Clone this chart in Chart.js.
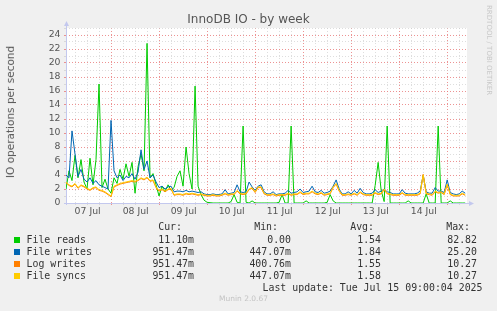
<!DOCTYPE html>
<html>
<head>
<meta charset="utf-8">
<script src="https://cdn.jsdelivr.net/npm/chart.js@4"></script>
<style>
  body { margin: 0; background: #f0f0f0; }
  #wrap { position: relative; width: 497px; height: 311px; background: #f0f0f0; overflow: hidden; }
  #wrap div { position: absolute; white-space: pre; }
  .mono { font-family: "DejaVu Sans Mono", monospace; font-size: 9.9px; color: #333; line-height: 12px; }
</style>
</head>
<body>
<div id="wrap">
  <canvas id="metricChart" width="497" height="311"></canvas>
  <div id="title" style="left:0;width:497px;top:12px;text-align:center;font-family:'DejaVu Sans';font-size:12px;color:#555;line-height:14px;">InnoDB IO - by week</div>
  <div id="ytitle" style="left:4px;top:112px;font-family:'DejaVu Sans';font-size:10.5px;color:#555;line-height:12px;transform:translate(0,-50%) rotate(180deg);writing-mode:vertical-rl;">IO operations per second</div>
  <div id="mark" style="left:484px;top:5px;font-family:'DejaVu Sans';font-size:7px;color:#c8c8c8;writing-mode:vertical-rl;line-height:9px;">RRDTOOL / TOBI OETIKER</div>
  <div id="munin" style="left:0;width:487px;top:294px;text-align:center;font-family:'DejaVu Sans';font-size:7.5px;color:#c4c4c4;line-height:10px;">Munin 2.0.67</div>
</div>
<script>
// day labels on the x axis (centred on noon of each day)
const days = ["07 Jul", "08 Jul", "09 Jul", "10 Jul", "11 Jul", "12 Jul", "13 Jul", "14 Jul"];

// one sample every 1.5 hours, starting just after midnight 06/07 Jul
const startDay = 0.05;
const stepDay = 0.0625;

const fileReads = [
  2.0, 4.6, 3.2, 6.8, 3.6, 6.2, 3.0, 2.0, 6.4, 2.6,
  6.2, 17.0, 2.2, 3.4, 2.0, 1.4, 3.6, 2.8, 4.8, 3.4,
  5.6, 3.8, 5.8, 1.4, 5.2, 7.0, 4.6, 22.8, 3.6, 4.2,
  2.6, 1.0, 2.4, 1.6, 2.6, 1.8, 2.2, 3.8, 4.6, 2.4,
  8.0, 4.2, 2.0, 16.7, 2.4, 1.2, 0.4, 0.1, 0.05, 0,
  0, 0, 0, 0, 0, 0.2, 1.2, 0.1, 0, 11.0,
  0.1, 0, 0.3, 0, 0, 0, 0, 0, 0, 0,
  0, 0.1, 1.2, 0, 0, 11.0, 0, 0, 0, 0,
  0.3, 0, 0, 0, 0, 0, 0, 0.1, 1.2, 0.3,
  0, 0, 0, 0, 0, 0, 0, 0, 0, 0,
  0, 0, 0, 2.5, 5.8, 1.8, 0.2, 11.0, 0, 0,
  0, 0, 0, 0, 0.3, 0, 0, 0, 0, 0,
  1.3, 0, 0, 0, 11.0, 0, 0, 0, 0.3, 0,
  0, 0, 0, 0
];

const fileWrites = [
  4.0, 3.6, 10.3, 7.0, 3.8, 4.8, 3.4, 3.0, 3.6, 2.8,
  3.2, 2.6, 2.4, 2.2, 2.0, 11.8, 4.6, 3.6, 4.0, 3.2,
  3.8, 3.6, 4.2, 3.4, 4.4, 7.6, 4.8, 6.0, 3.6, 4.0,
  3.0, 2.2, 2.4, 2.0, 2.3, 2.4, 1.6, 1.7, 1.7, 1.6,
  1.8, 1.6, 1.7, 1.6, 1.5, 1.6, 1.3, 1.2, 1.2, 1.3,
  1.2, 1.2, 1.3, 1.9, 1.3, 1.4, 1.5, 2.6, 1.6, 1.5,
  1.6, 3.0, 2.3, 1.8, 2.4, 2.6, 1.6, 1.3, 1.3, 1.6,
  1.2, 1.3, 1.3, 1.4, 1.8, 1.4, 1.5, 1.6, 2.0, 1.5,
  1.6, 1.7, 2.4, 1.6, 1.5, 1.8, 1.4, 1.5, 1.7, 2.4,
  3.3, 2.0, 1.3, 1.3, 1.6, 1.3, 1.8, 1.4, 2.1, 1.5,
  1.3, 1.3, 1.4, 1.9, 1.5, 1.7, 2.0, 1.6, 1.5, 1.3,
  1.3, 1.3, 1.9, 1.4, 1.3, 1.3, 1.3, 1.4, 1.7, 4.0,
  1.6, 1.4, 1.4, 2.2, 1.7, 1.7, 1.5, 3.3, 1.5, 1.3,
  1.2, 1.3, 1.7, 1.4
];

const logWrites = [
  2.9, 2.5, 2.3, 2.7, 2.1, 2.5, 2.3, 2.0, 1.8, 2.1,
  2.2, 1.8, 1.7, 1.5, 1.2, 0.9, 2.3, 2.5, 2.7, 2.8,
  2.9, 3.0, 3.1, 3.0, 3.2, 3.5, 3.3, 3.6, 3.1, 3.2,
  2.2, 1.7, 1.9, 1.6, 1.9, 2.0, 1.1, 1.2, 1.2, 1.1,
  1.3, 1.2, 1.3, 1.2, 1.1, 1.2, 1.1, 1.0, 1.0, 1.1,
  1.0, 1.0, 1.1, 1.3, 1.1, 1.2, 1.2, 1.7, 1.3, 1.2,
  1.3, 1.9, 2.1, 1.5, 2.2, 2.2, 1.3, 1.1, 1.1, 1.2,
  1.0, 1.1, 1.1, 1.1, 1.3, 1.1, 1.2, 1.2, 1.5, 1.2,
  1.3, 1.3, 1.6, 1.3, 1.2, 1.4, 1.1, 1.2, 1.3, 2.2,
  2.7, 1.7, 1.1, 1.1, 1.2, 1.1, 1.3, 1.1, 1.5, 1.2,
  1.1, 1.1, 1.1, 1.4, 1.2, 1.3, 1.9, 1.3, 1.2, 1.1,
  1.1, 1.1, 1.4, 1.1, 1.1, 1.1, 1.1, 1.1, 1.3, 4.1,
  1.3, 1.2, 1.1, 1.6, 1.4, 1.5, 1.2, 2.6, 1.2, 1.0,
  1.0, 1.0, 1.3, 1.1
];

const fileSyncs = [
  3.0, 2.6, 2.4, 2.8, 2.2, 2.6, 2.4, 2.1, 1.9, 2.2,
  2.3, 1.9, 1.8, 1.6, 1.3, 1.0, 2.4, 2.6, 2.8, 2.9,
  3.0, 3.1, 3.2, 3.1, 3.3, 3.6, 3.4, 3.7, 3.2, 3.3,
  2.3, 1.8, 2.0, 1.7, 2.0, 2.1, 1.2, 1.3, 1.3, 1.2,
  1.4, 1.3, 1.4, 1.3, 1.2, 1.3, 1.2, 1.1, 1.1, 1.2,
  1.1, 1.1, 1.2, 1.4, 1.2, 1.3, 1.3, 1.8, 1.4, 1.3,
  1.4, 2.0, 2.2, 1.6, 2.3, 2.3, 1.4, 1.2, 1.2, 1.3,
  1.1, 1.2, 1.2, 1.2, 1.4, 1.2, 1.3, 1.3, 1.6, 1.3,
  1.4, 1.4, 1.7, 1.4, 1.3, 1.5, 1.2, 1.3, 1.4, 2.3,
  2.8, 1.8, 1.2, 1.2, 1.3, 1.2, 1.4, 1.2, 1.6, 1.3,
  1.2, 1.2, 1.2, 1.5, 1.3, 1.4, 2.0, 1.4, 1.3, 1.2,
  1.2, 1.2, 1.5, 1.2, 1.2, 1.2, 1.2, 1.2, 1.4, 4.0,
  1.4, 1.3, 1.2, 1.7, 1.5, 1.6, 1.3, 2.7, 1.3, 1.1,
  1.1, 1.1, 1.4, 1.2
];

// legend table
const seriesNames = ["File reads", "File writes", "Log writes", "File syncs"];
const seriesColors = ["#00cc00", "#0066b3", "#ff8000", "#ffcc00"];
const curVals = ["11.10m", "951.47m", "951.47m", "951.47m"];
const minVals = ["0.00", "447.07m", "400.76m", "447.07m"];
const avgVals = ["1.54", "1.84", "1.55", "1.58"];
const maxVals = ["82.82", "25.20", "10.27", "10.27"];
const lastUpdate = "Last update: Tue Jul 15 09:00:04 2025";

const toPoints = (arr) => arr.map((v, i) => ({ x: startDay + i * stepDay, y: v }));

const wrap = document.getElementById("wrap");
function addText(txt, right, top, cls) {
    const d = document.createElement("div");
    d.className = cls;
    d.textContent = txt;
    d.style.right = (497 - right) + "px";
    d.style.top = top + "px";
    wrap.appendChild(d);
}
addText("Cur:", 182, 221, "mono");
addText("Min:", 278, 221, "mono");
addText("Avg:", 374, 221, "mono");
addText("Max:", 470, 221, "mono");
seriesNames.forEach((name, i) => {
    const top = 233.5 + i * 12;
    const sq = document.createElement("div");
    sq.style.cssText = "left:14px;top:" + (top + 3) + "px;width:6px;height:6px;background:" + seriesColors[i];
    wrap.appendChild(sq);
    const lbl = document.createElement("div");
    lbl.className = "mono";
    lbl.textContent = name;
    lbl.style.left = "26.5px";
    lbl.style.top = top + "px";
    wrap.appendChild(lbl);
    addText(curVals[i], 194, top, "mono");
    addText(minVals[i], 291, top, "mono");
    addText(avgVals[i], 381, top, "mono");
    addText(maxVals[i], 477, top, "mono");
});
addText(lastUpdate, 482.5, 281.5, "mono");

const majorGrid = "rgba(232,120,120,0.8)";
const minorGrid = "rgba(200,200,200,0.6)";
const axisColor = "#c3c8ee";

const munin = {
    id: "munin",
    beforeDraw(chart) {
        const { ctx, chartArea: a } = chart;
        ctx.save();
        ctx.fillStyle = "#ffffff";
        ctx.fillRect(a.left, a.top, a.right - a.left, a.bottom - a.top);
        ctx.restore();
    },
    beforeDatasetsDraw(chart) {
        const { ctx, chartArea: a } = chart;
        ctx.save();
        ctx.strokeStyle = axisColor;
        ctx.fillStyle = axisColor;
        ctx.lineWidth = 1;
        ctx.beginPath();
        ctx.moveTo(a.left + 0.5, a.bottom + 2);
        ctx.lineTo(a.left + 0.5, a.top - 3);
        ctx.moveTo(a.left - 2, a.bottom + 0.5);
        ctx.lineTo(a.right + 3, a.bottom + 0.5);
        ctx.stroke();
        ctx.beginPath();
        ctx.moveTo(a.left - 2, a.top - 2);
        ctx.lineTo(a.left + 3, a.top - 2);
        ctx.lineTo(a.left + 0.5, a.top - 7);
        ctx.fill();
        ctx.beginPath();
        ctx.moveTo(a.right + 2, a.bottom - 2);
        ctx.lineTo(a.right + 2, a.bottom + 3);
        ctx.lineTo(a.right + 7, a.bottom + 0.5);
        ctx.fill();
        ctx.restore();
    }
};

Chart.defaults.font.family = "'DejaVu Sans'";
Chart.defaults.color = "#555";

const line = (label, data, color, order) => ({
    label: label,
    data: toPoints(data),
    borderColor: color,
    backgroundColor: color,
    borderWidth: 1,
    pointRadius: 0,
    tension: 0,
    fill: false,
    order: order
});

let statsChart = document.getElementById("metricChart").getContext("2d");
let chart = new Chart(statsChart, {
    type: "line",
    data: {
        datasets: [
            line(seriesNames[0], fileReads, seriesColors[0], 4),
            line(seriesNames[1], fileWrites, seriesColors[1], 3),
            line(seriesNames[2], logWrites, seriesColors[2], 2),
            line(seriesNames[3], fileSyncs, seriesColors[3], 1)
        ]
    },
    options: {
        responsive: false,
        animation: false,
        devicePixelRatio: 1,
        layout: { padding: { left: 0, top: 28, right: 30, bottom: 88 } },
        plugins: { legend: { display: false }, tooltip: { enabled: false } },
        scales: {
            x: {
                type: "linear",
                min: 0.05,
                max: 8.4,
                afterFit: (s) => { s.height = 20; },
                afterBuildTicks: (s) => {
                    const t = [];
                    for (let k = 1; k <= 33; k++) t.push({ value: k * 0.25 });
                    s.ticks = t;
                },
                ticks: {
                    autoSkip: false,
                    maxRotation: 0,
                    padding: 1,
                    font: { size: 9.3 },
                    color: "#555",
                    callback: (v) => {
                        const f = v - Math.floor(v);
                        return Math.abs(f - 0.5) < 1e-6 ? days[Math.floor(v)] : "";
                    }
                },
                grid: {
                    color: (c) => (Number.isInteger(c.tick.value) ? majorGrid : minorGrid),
                    tickLength: 2,
                    lineWidth: 1
                },
                border: { display: false, dash: [1, 2] }
            },
            y: {
                min: 0,
                max: 25,
                afterFit: (s) => { s.width = 66; },
                afterBuildTicks: (s) => {
                    const t = [];
                    for (let k = 0; k <= 25; k++) t.push({ value: k });
                    s.ticks = t;
                },
                ticks: {
                    autoSkip: false,
                    padding: 3.5,
                    font: { size: 9.3 },
                    color: "#555",
                    callback: (v) => (v % 2 === 0 ? v : "")
                },
                grid: {
                    color: (c) => (c.tick.value % 2 === 0 ? majorGrid : minorGrid),
                    tickLength: 2,
                    lineWidth: 1
                },
                border: { display: false, dash: [1, 2] }
            }
        }
    },
    plugins: [munin]
});
</script>
</body>
</html>
